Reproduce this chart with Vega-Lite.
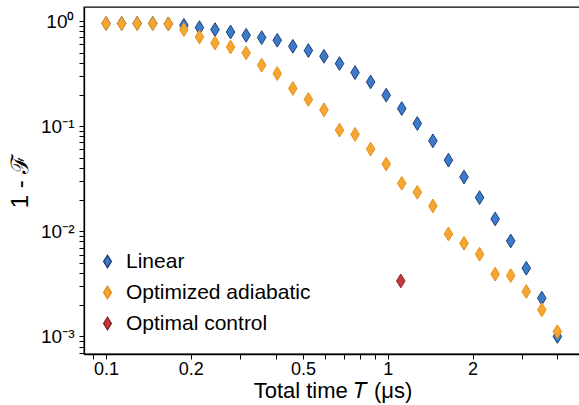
{
  "$schema": "https://vega.github.io/schema/vega-lite/v6.json",
  "autosize": "none",
  "padding": {"left": 84, "top": 7, "right": 0, "bottom": 51},
  "width": 497,
  "height": 347,
  "background": "white",
  "config": {
    "view": {"stroke": "black", "strokeWidth": 1.3},
    "font": "Liberation Sans"
  },
  "data": {"values": [
    {"T": 0.1, "infid": 0.95, "method": "Linear"},
    {"T": 0.11356, "infid": 0.95, "method": "Linear"},
    {"T": 0.12896, "infid": 0.95, "method": "Linear"},
    {"T": 0.14645, "infid": 0.95, "method": "Linear"},
    {"T": 0.16632, "infid": 0.94, "method": "Linear"},
    {"T": 0.18888, "infid": 0.91, "method": "Linear"},
    {"T": 0.2145, "infid": 0.866, "method": "Linear"},
    {"T": 0.24359, "infid": 0.829, "method": "Linear"},
    {"T": 0.27663, "infid": 0.786, "method": "Linear"},
    {"T": 0.31415, "infid": 0.732, "method": "Linear"},
    {"T": 0.35676, "infid": 0.696, "method": "Linear"},
    {"T": 0.40515, "infid": 0.656, "method": "Linear"},
    {"T": 0.4601, "infid": 0.575, "method": "Linear"},
    {"T": 0.52251, "infid": 0.524, "method": "Linear"},
    {"T": 0.59338, "infid": 0.462, "method": "Linear"},
    {"T": 0.67386, "infid": 0.394, "method": "Linear"},
    {"T": 0.76526, "infid": 0.3236, "method": "Linear"},
    {"T": 0.86906, "infid": 0.2634, "method": "Linear"},
    {"T": 0.98701, "infid": 0.197, "method": "Linear"},
    {"T": 1.12078, "infid": 0.147, "method": "Linear"},
    {"T": 1.27279, "infid": 0.106, "method": "Linear"},
    {"T": 1.44557, "infid": 0.0725, "method": "Linear"},
    {"T": 1.64164, "infid": 0.0475, "method": "Linear"},
    {"T": 1.8643, "infid": 0.0328, "method": "Linear"},
    {"T": 2.11716, "infid": 0.0209, "method": "Linear"},
    {"T": 2.40436, "infid": 0.0131, "method": "Linear"},
    {"T": 2.7304, "infid": 0.00809, "method": "Linear"},
    {"T": 3.10075, "infid": 0.00445, "method": "Linear"},
    {"T": 3.5213, "infid": 0.00231, "method": "Linear"},
    {"T": 3.99902, "infid": 0.000998, "method": "Linear"},
    {"T": 0.1, "infid": 0.945, "method": "Optimized adiabatic"},
    {"T": 0.11356, "infid": 0.945, "method": "Optimized adiabatic"},
    {"T": 0.12896, "infid": 0.945, "method": "Optimized adiabatic"},
    {"T": 0.14645, "infid": 0.945, "method": "Optimized adiabatic"},
    {"T": 0.16632, "infid": 0.94, "method": "Optimized adiabatic"},
    {"T": 0.18888, "infid": 0.829, "method": "Optimized adiabatic"},
    {"T": 0.2145, "infid": 0.705, "method": "Optimized adiabatic"},
    {"T": 0.24359, "infid": 0.618, "method": "Optimized adiabatic"},
    {"T": 0.27663, "infid": 0.566, "method": "Optimized adiabatic"},
    {"T": 0.31415, "infid": 0.497, "method": "Optimized adiabatic"},
    {"T": 0.35676, "infid": 0.38, "method": "Optimized adiabatic"},
    {"T": 0.40515, "infid": 0.3166, "method": "Optimized adiabatic"},
    {"T": 0.4601, "infid": 0.228, "method": "Optimized adiabatic"},
    {"T": 0.52251, "infid": 0.1793, "method": "Optimized adiabatic"},
    {"T": 0.59338, "infid": 0.143, "method": "Optimized adiabatic"},
    {"T": 0.67386, "infid": 0.0916, "method": "Optimized adiabatic"},
    {"T": 0.76526, "infid": 0.0834, "method": "Optimized adiabatic"},
    {"T": 0.86906, "infid": 0.0605, "method": "Optimized adiabatic"},
    {"T": 0.98701, "infid": 0.0436, "method": "Optimized adiabatic"},
    {"T": 1.12078, "infid": 0.0286, "method": "Optimized adiabatic"},
    {"T": 1.27279, "infid": 0.0235, "method": "Optimized adiabatic"},
    {"T": 1.44557, "infid": 0.0174, "method": "Optimized adiabatic"},
    {"T": 1.64164, "infid": 0.00942, "method": "Optimized adiabatic"},
    {"T": 1.8643, "infid": 0.00769, "method": "Optimized adiabatic"},
    {"T": 2.11716, "infid": 0.00605, "method": "Optimized adiabatic"},
    {"T": 2.40436, "infid": 0.00391, "method": "Optimized adiabatic"},
    {"T": 2.7304, "infid": 0.00379, "method": "Optimized adiabatic"},
    {"T": 3.10075, "infid": 0.00267, "method": "Optimized adiabatic"},
    {"T": 3.5213, "infid": 0.00179, "method": "Optimized adiabatic"},
    {"T": 3.99902, "infid": 0.00111, "method": "Optimized adiabatic"},
    {"T": 1.112, "infid": 0.00337, "method": "Optimal control"}
  ]},
  "mark": {
    "type": "point",
    "shape": "M0,-1L0.62,0L0,1L-0.62,0Z",
    "size": 190,
    "strokeWidth": 1,
    "opacity": 1,
    "fillOpacity": 1
  },
  "encoding": {
    "x": {
      "field": "T", "type": "quantitative",
      "scale": {"type": "log", "domain": [0.0835, 4.85], "nice": false},
      "axis": {
        "title": "Total time 𝑇 (μs)",
        "titleFontSize": 22, "titleFontWeight": "normal", "titleColor": "black", "titlePadding": 2,
        "values": [0.09, 0.1, 0.2, 0.3, 0.4, 0.5, 0.6, 0.7, 0.8, 0.9, 1, 2, 3, 4],
        "labelExpr": "indexof([0.1, 0.2, 0.5, 1, 2], datum.value) >= 0 ? datum.value + '' : ''",
        "labelFontSize": 18, "labelColor": "black", "labelPadding": 1,
        "domainColor": "black", "domainWidth": 1.3,
        "ticks": true, "tickColor": "black", "tickWidth": 1, "tickSize": 5,
        "grid": false
      }
    },
    "y": {
      "field": "infid", "type": "quantitative",
      "scale": {"type": "log", "domain": [0.00068, 1.36], "nice": false},
      "axis": {
        "title": "1 - ℱ",
        "titleFontSize": 24, "titleFontWeight": "normal", "titleColor": "black", "titlePadding": 8,
        "values": [1, 0.9, 0.8, 0.7, 0.6, 0.5, 0.4, 0.3, 0.2, 0.1, 0.09, 0.08, 0.07, 0.06, 0.05, 0.04, 0.03, 0.02, 0.01, 0.009, 0.008, 0.007, 0.006, 0.005, 0.004, 0.003, 0.002, 0.001, 0.0009, 0.0008, 0.0007],
        "labelExpr": "datum.value == 1 ? '10⁰' : datum.value == 0.1 ? '10⁻¹' : datum.value == 0.01 ? '10⁻²' : datum.value == 0.001 ? '10⁻³' : ''",
        "labelFontSize": 19, "labelColor": "black", "labelPadding": 5,
        "domainColor": "black", "domainWidth": 1.3,
        "ticks": true, "tickColor": "black", "tickWidth": 1, "tickSize": 5,
        "grid": false
      }
    },
    "fill": {
      "field": "method", "type": "nominal",
      "scale": {"domain": ["Linear", "Optimized adiabatic", "Optimal control"], "range": ["#3b7bc8", "#f6a632", "#c1393c"]},
      "legend": {
        "title": null, "orient": "none", "legendX": 13, "legendY": 244,
        "labelFontSize": 21, "labelColor": "black", "rowPadding": 9, "labelLimit": 400,
        "symbolSize": 150, "labelOffset": 8
      }
    },
    "stroke": {
      "field": "method", "type": "nominal",
      "scale": {"domain": ["Linear", "Optimized adiabatic", "Optimal control"], "range": ["#1f3f7a", "#e8901a", "#8c2326"]},
      "legend": {
        "title": null, "orient": "none", "legendX": 13, "legendY": 244,
        "labelFontSize": 21, "labelColor": "black", "rowPadding": 9, "labelLimit": 400,
        "symbolSize": 150, "labelOffset": 8
      }
    }
  }
}
